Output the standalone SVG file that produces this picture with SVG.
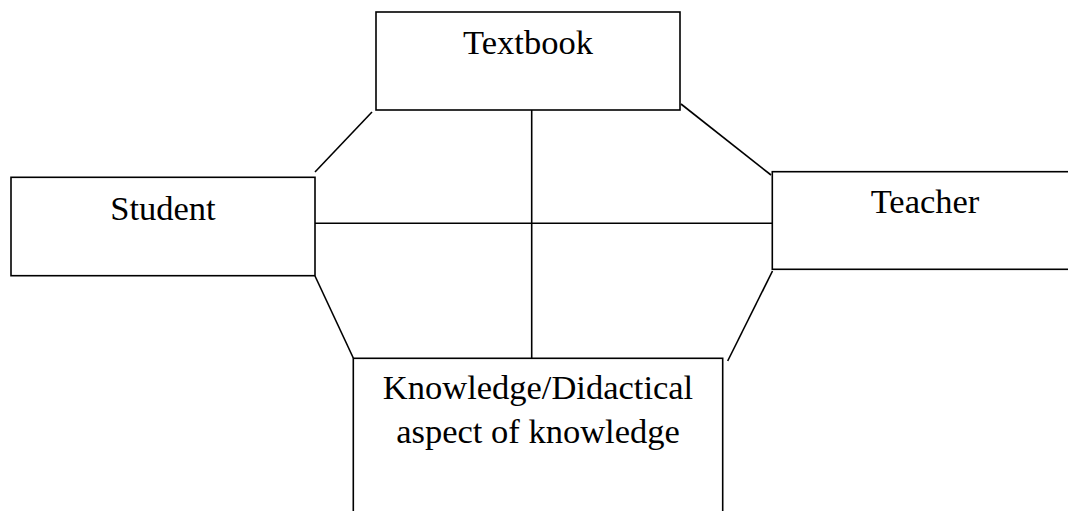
<svg xmlns="http://www.w3.org/2000/svg" width="1068" height="511" viewBox="0 0 1068 511">
<style>
.box{fill:#fff;stroke:#000;stroke-width:1.6}
.lbl{font-family:"Liberation Serif","Times New Roman",serif;font-size:34.5px;fill:#000;text-anchor:middle}
.con line{stroke:#000;stroke-width:1.6}
</style>
<rect width="1068" height="511" fill="#fff"/>
<g id="connectors" class="con">
<line x1="372" y1="112" x2="315" y2="172"/>
<line x1="681" y1="104" x2="771" y2="175"/>
<line x1="531.7" y1="110" x2="531.7" y2="358"/>
<line x1="315" y1="223.3" x2="772" y2="223.3"/>
<line x1="315" y1="276" x2="353.3" y2="358"/>
<line x1="772.5" y1="271" x2="727.7" y2="361"/>
</g>
<g id="textbook">
<rect class="box" x="376" y="12" width="304" height="98"/>
<text class="lbl" x="528" y="54">Textbook</text>
</g>
<g id="student">
<rect class="box" x="11" y="177.3" width="304" height="98.4"/>
<text class="lbl" x="163" y="220">Student</text>
</g>
<g id="teacher">
<rect class="box" x="772.3" y="171.7" width="304" height="97.6"/>
<text class="lbl" x="925" y="213.3">Teacher</text>
</g>
<g id="knowledge">
<rect class="box" x="353.3" y="358.3" width="369.4" height="170"/>
<text class="lbl" x="538" y="399">Knowledge/Didactical</text>
<text class="lbl" x="538" y="443.3">aspect of knowledge</text>
</g>
</svg>
